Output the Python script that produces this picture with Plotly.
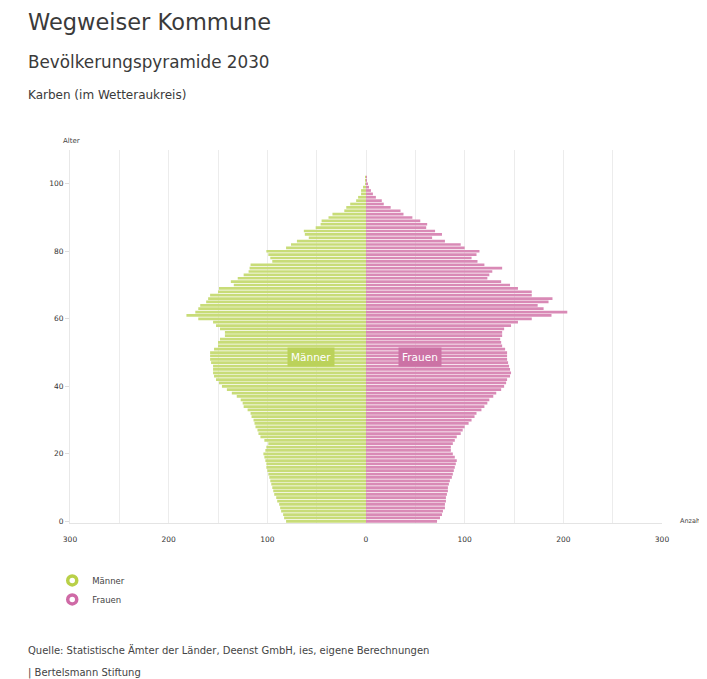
import plotly.graph_objects as go

ages = list(range(0, 103))

maenner = [81, 83, 84, 86, 87, 88, 90, 91, 93, 94,
           95, 96, 97, 98, 99, 100, 101, 101, 102, 103,
           104, 102, 101, 99, 103, 107, 109, 110, 112, 113,
           114, 116, 117, 120, 124, 125, 127, 131, 136, 141,
           146, 149, 152, 154, 155, 155, 155, 157, 158, 158,
           158, 154, 150, 150, 148, 143, 143, 148, 152, 155,
           170, 182, 173, 170, 168, 162, 160, 158, 150, 149,
           134, 137, 130, 124, 119, 118, 117, 95, 97, 99,
           101, 81, 76, 70, 58, 62, 63, 51, 46, 45,
           38, 34, 22, 20, 16, 10, 8, 5, 5, 3,
           1, 1, 1]

frauen = [72, 75, 77, 78, 80, 80, 81, 81, 82, 83,
          83, 84, 85, 87, 88, 89, 90, 91, 92, 90,
          88, 86, 86, 88, 90, 92, 96, 98, 100, 104,
          107, 110, 112, 117, 120, 123, 125, 129, 132, 137,
          140, 142, 143, 146, 147, 146, 145, 144, 143, 143,
          143, 141, 138, 137, 136, 138, 138, 140, 147, 154,
          168, 188, 204, 180, 174, 185, 189, 168, 168, 154,
          146, 137, 123, 125, 128, 138, 120, 113, 107, 112,
          115, 100, 96, 80, 67, 77, 70, 61, 62, 55,
          47, 38, 35, 25, 18, 16, 10, 7, 5, 3,
          2, 1, 1]

x_tickvals = [-300, -250, -200, -150, -100, -50, 0, 50, 100, 150, 200, 250, 300]
x_ticktext = ["300", "", "200", "", "100", "", "0", "", "100", "", "200", "", "300"]
y_tickvals = [0, 20, 40, 60, 80, 100]

GREEN = "#c8dc78"
PINK = "#d98ab6"
FONT = "DejaVu Sans, Open Sans, sans-serif"

fig = go.Figure()
fig.add_trace(go.Bar(y=ages, x=[-v for v in maenner], orientation="h",
                     marker=dict(color=GREEN, line=dict(width=0)),
                     name="Männer", showlegend=False))
fig.add_trace(go.Bar(y=ages, x=frauen, orientation="h",
                     marker=dict(color=PINK, line=dict(width=0)),
                     name="Frauen", showlegend=False))
# legend entries
fig.add_trace(go.Scatter(x=[None], y=[None], mode="markers", name="Männer",
                         marker=dict(symbol="circle-open", size=9, color="#b9d048",
                                     line=dict(width=3.5, color="#b9d048"))))
fig.add_trace(go.Scatter(x=[None], y=[None], mode="markers", name="Frauen",
                         marker=dict(symbol="circle-open", size=9, color="#cf6aa6",
                                     line=dict(width=3.5, color="#cf6aa6"))))

# page has an 8px body margin, so the figure is 8px smaller than the window
fig.update_layout(
    width=699, height=671,
    margin=dict(l=62, r=45, t=142, b=156),
    paper_bgcolor="white", plot_bgcolor="white",
    barmode="overlay", bargap=0.2,
    font=dict(family=FONT, color="#444"),
    showlegend=True,
    legend=dict(x=-0.03, y=-0.115, xanchor="left", yanchor="top",
                font=dict(size=8.5, color="#444"), tracegroupgap=0,
                itemwidth=30, bgcolor="rgba(0,0,0,0)"),
    xaxis=dict(range=[-300, 300], tickvals=x_tickvals, ticktext=x_ticktext,
               showgrid=True, gridcolor="#ececec", gridwidth=1, zeroline=False,
               showline=True, linecolor="#e4e4e4", ticks="", ticklabelstandoff=9,
               tickfont=dict(size=7.5, color="#333"), fixedrange=True),
    yaxis=dict(range=[-0.5, 110], tickvals=y_tickvals, showgrid=False, zeroline=False,
               showline=True, linecolor="#e8e8e8", ticks="outside", ticklen=4,
               tickcolor="#dddddd", tickfont=dict(size=7.5, color="#333"), fixedrange=True),
)

def pa(text, x, y, size, color="#3a3a3a", xanchor="left"):
    fig.add_annotation(text=text, xref="paper", yref="paper", x=x, y=y,
                       xanchor=xanchor, yanchor="middle", showarrow=False,
                       font=dict(size=size, color=color, family=FONT))

pa("Wegweiser Kommune", -0.075, 1.343, 22.5)
pa("Bevölkerungspyramide 2030", -0.075, 1.236, 16.8)
pa("Karben (im Wetteraukreis)", -0.075, 1.147, 12)
pa("Alter", 0.003, 1.024, 7, "#444", xanchor="center")
pa("Anzahl", 1.027, 0.005, 6.5, "#444")
pa("Quelle: Statistische Ämter der Länder, Deenst GmbH, ies, eigene Berechnungen",
   -0.075, -0.341, 10, "#444")
pa("| Bertelsmann Stiftung", -0.075, -0.403, 10, "#444")

fig.add_annotation(text="Männer", x=-56, y=48.7, xref="x", yref="y", showarrow=False,
                   font=dict(size=10.5, color="white", family=FONT),
                   bgcolor="#bbd25a", borderpad=3)
fig.add_annotation(text="Frauen", x=55, y=48.7, xref="x", yref="y", showarrow=False,
                   font=dict(size=10.5, color="white", family=FONT),
                   bgcolor="#cc72a5", borderpad=3)

fig.write_html("out.html")
